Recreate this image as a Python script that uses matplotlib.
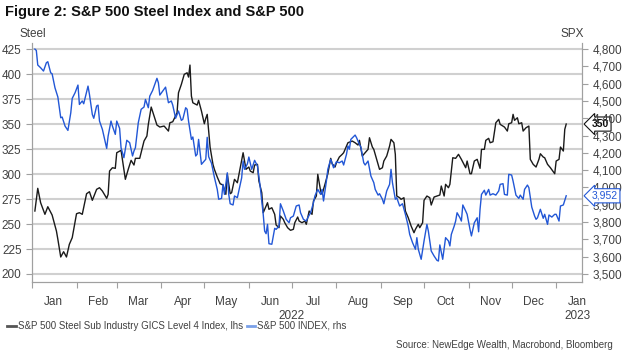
import pandas as pd
import matplotlib
matplotlib.use("Agg")
import matplotlib.pyplot as plt
import matplotlib.dates as mdates
import matplotlib.transforms as mtransforms

# days counted from 2022-01-01
steel_day = [2, 4, 6, 9, 11, 14, 17, 18, 20, 22, 24, 26, 28, 31, 33, 35, 38, 40, 42, 45,
             47, 49, 52, 53, 54, 56, 58, 59, 62, 65, 67, 69, 71, 72, 75, 78, 80, 81, 83, 85,
             87, 89, 92, 95, 96, 98, 101, 102, 104, 106, 108, 109, 110, 111, 112, 115, 116, 118, 120, 121,
             122, 124, 126, 127, 129, 131, 133, 135, 136, 138, 139, 141, 143, 145, 147, 149, 151, 152, 154, 155,
             157, 158, 160, 161, 162, 164, 165, 167, 169, 170, 172, 173, 175, 176, 178, 180, 182, 183, 185, 186,
             188, 190, 191, 193, 195, 196, 198, 199, 201, 202, 204, 206, 208, 209, 211, 212, 214, 216, 217, 219,
             220, 223, 225, 227, 228, 230, 232, 234, 235, 237, 238, 240, 242, 244, 245, 247, 249, 250, 252, 253,
             254, 256, 257, 259, 260, 262, 264, 266, 267, 269, 270, 272, 273, 275, 277, 278, 280, 282, 284, 285,
             287, 288, 290, 291, 293, 295, 297, 299, 302, 303, 305, 306, 308, 310, 312, 313, 315, 316, 318, 319,
             321, 323, 325, 326, 329, 331, 332, 334, 335, 336, 338, 339, 341, 342, 344, 346, 347, 349, 351, 353,
             354, 356, 357, 359, 361, 363, 364, 365, 367, 368, 370, 371, 372]
steel_val = [263, 285.7, 271.3, 259.7, 267.3, 259, 243, 234.7, 217, 222.3, 217, 229.7, 236.3, 260.3, 261.3, 259.7, 280.3, 282.3, 273.7, 284.7,
             286.3, 283, 275.7, 279.7, 303, 306.3, 305.7, 321.3, 323.7, 294.7, 304.7, 313.7, 309, 315.7, 315.7, 333, 338, 349.7, 367, 358,
             349, 347, 348, 343, 351.3, 352.3, 361.3, 381.3, 389.7, 399.7, 401.3, 397, 409, 378, 371.3, 369, 373.7, 363, 350.3, 355.7,
             359.7, 327, 309.7, 304.7, 297, 290.3, 289, 279.7, 299.7, 280.3, 281.3, 294.7, 291.3, 306.3, 321.3, 304.7, 307, 303, 301.3, 309,
             309.7, 293, 281.3, 261.3, 264.7, 271.3, 264.7, 266.3, 259.7, 249, 246.3, 258, 254.7, 251.3, 246.3, 243.7, 244.7, 251.3, 257, 253,
             251.3, 253, 249.7, 263, 259.7, 273, 278, 299.7, 283, 279.7, 289.7, 300.3, 315.7, 310.3, 307, 311.3, 317, 319.7, 321.3, 328,
             331.3, 333, 331.3, 329, 333.7, 318, 321.3, 324.7, 336.3, 327, 324.7, 314.7, 304.7, 306.3, 313, 318, 328, 334.7, 331.3, 319.7,
             278, 276.3, 274.7, 276.3, 263, 256.3, 248, 241.3, 244.7, 249.7, 246.3, 251.3, 273.7, 278, 276.3, 269, 277, 278, 279, 288,
             278, 289.7, 286.3, 289.7, 316.3, 315.7, 319.7, 314.7, 306.3, 313, 300.3, 300.3, 313, 314.7, 305.7, 324.7, 324.7, 333.7, 335.7, 331.3,
             332.3, 351.3, 354.7, 349.7, 347, 343, 350.3, 351.3, 359.7, 353.7, 356.3, 350.3, 351.3, 343, 346.3, 348, 314.7, 309.7, 307, 314.7,
             320.3, 317, 316.3, 309.7, 306.3, 302.3, 300.3, 313, 314.7, 327, 323, 344.7, 350]

spx_day = [2, 3, 4, 6, 8, 10, 11, 13, 14, 16, 18, 20, 21, 23, 25, 27, 28, 30, 32, 33,
           35, 36, 39, 40, 42, 43, 45, 46, 47, 49, 52, 53, 55, 56, 58, 59, 61, 62, 64, 66,
           68, 70, 71, 72, 74, 76, 78, 79, 81, 82, 84, 87, 88, 89, 91, 93, 94, 95, 97, 98,
           100, 102, 104, 105, 107, 108, 109, 111, 112, 114, 115, 116, 118, 121, 122, 123, 125, 127, 129, 130,
           132, 133, 134, 136, 137, 138, 140, 141, 143, 146, 147, 148, 150, 151, 153, 155, 157, 159, 161, 162,
           163, 164, 165, 167, 169, 170, 172, 173, 175, 177, 179, 180, 182, 184, 186, 187, 189, 191, 192, 194,
           196, 197, 199, 201, 202, 203, 205, 206, 208, 210, 212, 214, 216, 217, 219, 220, 221, 222, 225, 226,
           228, 229, 231, 232, 234, 236, 238, 239, 241, 242, 244, 245, 247, 249, 250, 251, 253, 254, 256, 258,
           260, 262, 263, 265, 267, 268, 269, 271, 273, 275, 276, 278, 280, 282, 283, 284, 286, 288, 290, 291,
           292, 294, 295, 296, 298, 299, 300, 302, 303, 305, 306, 308, 310, 311, 312, 313, 315, 316, 318, 319,
           321, 323, 325, 326, 328, 329, 331, 332, 334, 335, 337, 339, 340, 342, 343, 345, 346, 348, 350, 351,
           352, 354, 356, 357, 359, 360, 362, 364, 365, 367, 368, 370, 371, 372]
spx_val = [4800, 4792, 4708, 4692, 4673, 4721, 4727, 4663, 4657, 4576, 4523, 4403, 4407, 4355, 4330, 4432, 4515, 4548, 4592, 4480,
           4500, 4484, 4586, 4538, 4422, 4400, 4471, 4476, 4384, 4336, 4226, 4297, 4384, 4355, 4307, 4384, 4342, 4230, 4172, 4273,
           4259, 4182, 4211, 4230, 4374, 4452, 4465, 4509, 4461, 4528, 4561, 4631, 4605, 4534, 4557, 4580, 4534, 4490, 4500, 4476,
           4400, 4442, 4388, 4394, 4461, 4452, 4384, 4278, 4292, 4182, 4192, 4278, 4134, 4163, 4290, 4178, 4140, 4059, 3989, 3932,
           3937, 4018, 3960, 4085, 3960, 3906, 3899, 3951, 3941, 4056, 4153, 4105, 4137, 4176, 4105, 4157, 4124, 3999, 3845, 3748,
           3733, 3787, 3675, 3672, 3764, 3758, 3777, 3906, 3864, 3816, 3796, 3825, 3835, 3893, 3899, 3854, 3816, 3806, 3825, 3854,
           3912, 3951, 3989, 3960, 3989, 3922, 4037, 4105, 4163, 4114, 4149, 4143, 4153, 4130, 4192, 4240, 4221, 4278, 4303, 4288,
           4249, 4234, 4143, 4130, 4153, 4066, 4028, 3989, 3956, 3964, 3932, 3906, 3980, 4018, 4105, 4028, 3932, 3941, 3893, 3906,
           3845, 3777, 3729, 3681, 3643, 3710, 3643, 3585, 3691, 3787, 3748, 3633, 3604, 3579, 3575, 3668, 3585, 3710, 3691, 3662,
           3729, 3777, 3806, 3854, 3825, 3806, 3899, 3864, 3845, 3758, 3720, 3796, 3825, 3744, 3874, 3960, 3984, 3956, 3989, 3956,
           3964, 3956, 3980, 4018, 4022, 3960, 3956, 4076, 4072, 4037, 3956, 3937, 3956, 3932, 3989, 4014, 3999, 3887, 3835, 3816,
           3825, 3874, 3822, 3845, 3787, 3841, 3829, 3845, 3845, 3806, 3893, 3899, 3926, 3952]

steel_ticks = [200, 225, 250, 275, 300, 325, 350, 375, 400, 425]
spx_ticks = [3500, 3600, 3700, 3800, 3900, 4000, 4100, 4200, 4300, 4400, 4500, 4600, 4700, 4800]

plt.rcParams["font.family"] = ["Liberation Sans", "DejaVu Sans"]

start = pd.Timestamp("2022-01-01")
steel_dates = start + pd.to_timedelta(steel_day, unit="D")
spx_dates = start + pd.to_timedelta(spx_day, unit="D")

fig = plt.figure(figsize=(6.24, 3.59), dpi=100)
ax = fig.add_axes([0.0513, 0.2145, 0.8814, 0.6655])
ax2 = ax.twinx()

grey = "#a0a0a0"
txt = "#404040"

ax.plot(steel_dates, steel_val, color="#1a1a1a", lw=1.0)
ax2.plot(spx_dates, spx_val, color="#2257d6", lw=1.0)

lo, hi = 192, 431
ax.set_ylim(lo, hi)
ax2.set_ylim(3500 + (lo - 200) * 1300 / 225, 3500 + (hi - 200) * 1300 / 225)
ax.set_yticks(steel_ticks)
ax2.set_yticks(spx_ticks)
ax2.set_yticklabels([f"{v:,}" for v in spx_ticks])
ax.set_xlim(pd.Timestamp("2022-01-01"), pd.Timestamp("2023-01-19"))

ax.grid(axis="y", color="#d0d0d0", lw=1.5)
ax.set_axisbelow(True)

for a in (ax, ax2):
    a.spines["top"].set_visible(False)
    for s in ("left", "right", "bottom"):
        a.spines[s].set_color(grey)
    a.tick_params(axis="y", colors=grey, labelcolor=txt, labelsize=8.5, length=4)

ax.xaxis.set_major_locator(mdates.MonthLocator())
ax.xaxis.set_major_formatter(plt.NullFormatter())
ax.xaxis.set_minor_locator(mdates.MonthLocator(bymonthday=16))
ax.xaxis.set_minor_formatter(mdates.DateFormatter("%b"))
ax.tick_params(axis="x", which="major", colors=grey, length=4)
ax.tick_params(axis="x", which="minor", length=0, labelcolor=txt, labelsize=8.5, pad=10)

xtr = mtransforms.blended_transform_factory(ax.transData, fig.transFigure)
ax.text(pd.Timestamp("2022-07-01"), 1 - 316 / 359, "2022", transform=xtr,
        ha="center", va="center", fontsize=8.5, color=txt)
ax.text(pd.Timestamp("2023-01-16"), 1 - 316 / 359, "2023", transform=xtr,
        ha="center", va="center", fontsize=8.5, color=txt)

fig.text(5 / 624, 1 - 12 / 359, "Figure 2: S&P 500 Steel Index and S&P 500",
         fontsize=10.5, fontweight="bold", color="#111111", va="center")
fig.text(20 / 624, 1 - 34 / 359, "Steel", fontsize=8.5, color=txt, va="center")
fig.text(584 / 624, 1 - 34 / 359, "SPX", fontsize=8.5, color=txt, va="center", ha="right")

# last value tags
ytr = mtransforms.blended_transform_factory(ax.transAxes, ax.transData)
ax.annotate(f"{steel_val[-1]:g}", xy=(1.0, steel_val[-1]), xycoords=ytr,
            xytext=(7, 0), textcoords="offset points", ha="left", va="center",
            fontsize=7.5, fontweight="bold", color="#111111", zorder=10,
            bbox=dict(boxstyle="larrow,pad=0.2", fc="white", ec="#111111", lw=0.8))
ytr2 = mtransforms.blended_transform_factory(ax2.transAxes, ax2.transData)
ax2.annotate(f"{spx_val[-1]:,}", xy=(1.0, spx_val[-1]), xycoords=ytr2,
             xytext=(7, 0), textcoords="offset points", ha="left", va="center",
             fontsize=7.5, color="#2257d6", zorder=10,
             bbox=dict(boxstyle="larrow,pad=0.2", fc="white", ec="#2257d6", lw=0.8))

h1 = plt.Line2D([], [], color="#555555", lw=2)
h2 = plt.Line2D([], [], color="#7aa0e8", lw=2)
fig.legend([h1, h2], ["S&P 500 Steel Sub Industry GICS Level 4 Index, lhs", "S&P 500 INDEX, rhs"],
           loc="center left", bbox_to_anchor=(0.0, 1 - 326 / 359), ncol=2, frameon=False,
           fontsize=7, handlelength=0.9, handletextpad=0.2, columnspacing=0.4, borderpad=0.2,
           labelcolor=txt)

fig.text(613 / 624, 1 - 345 / 359, "Source: NewEdge Wealth, Macrobond, Bloomberg",
         fontsize=7, color=txt, ha="right", va="center")

fig.savefig("out.png", dpi=100)
